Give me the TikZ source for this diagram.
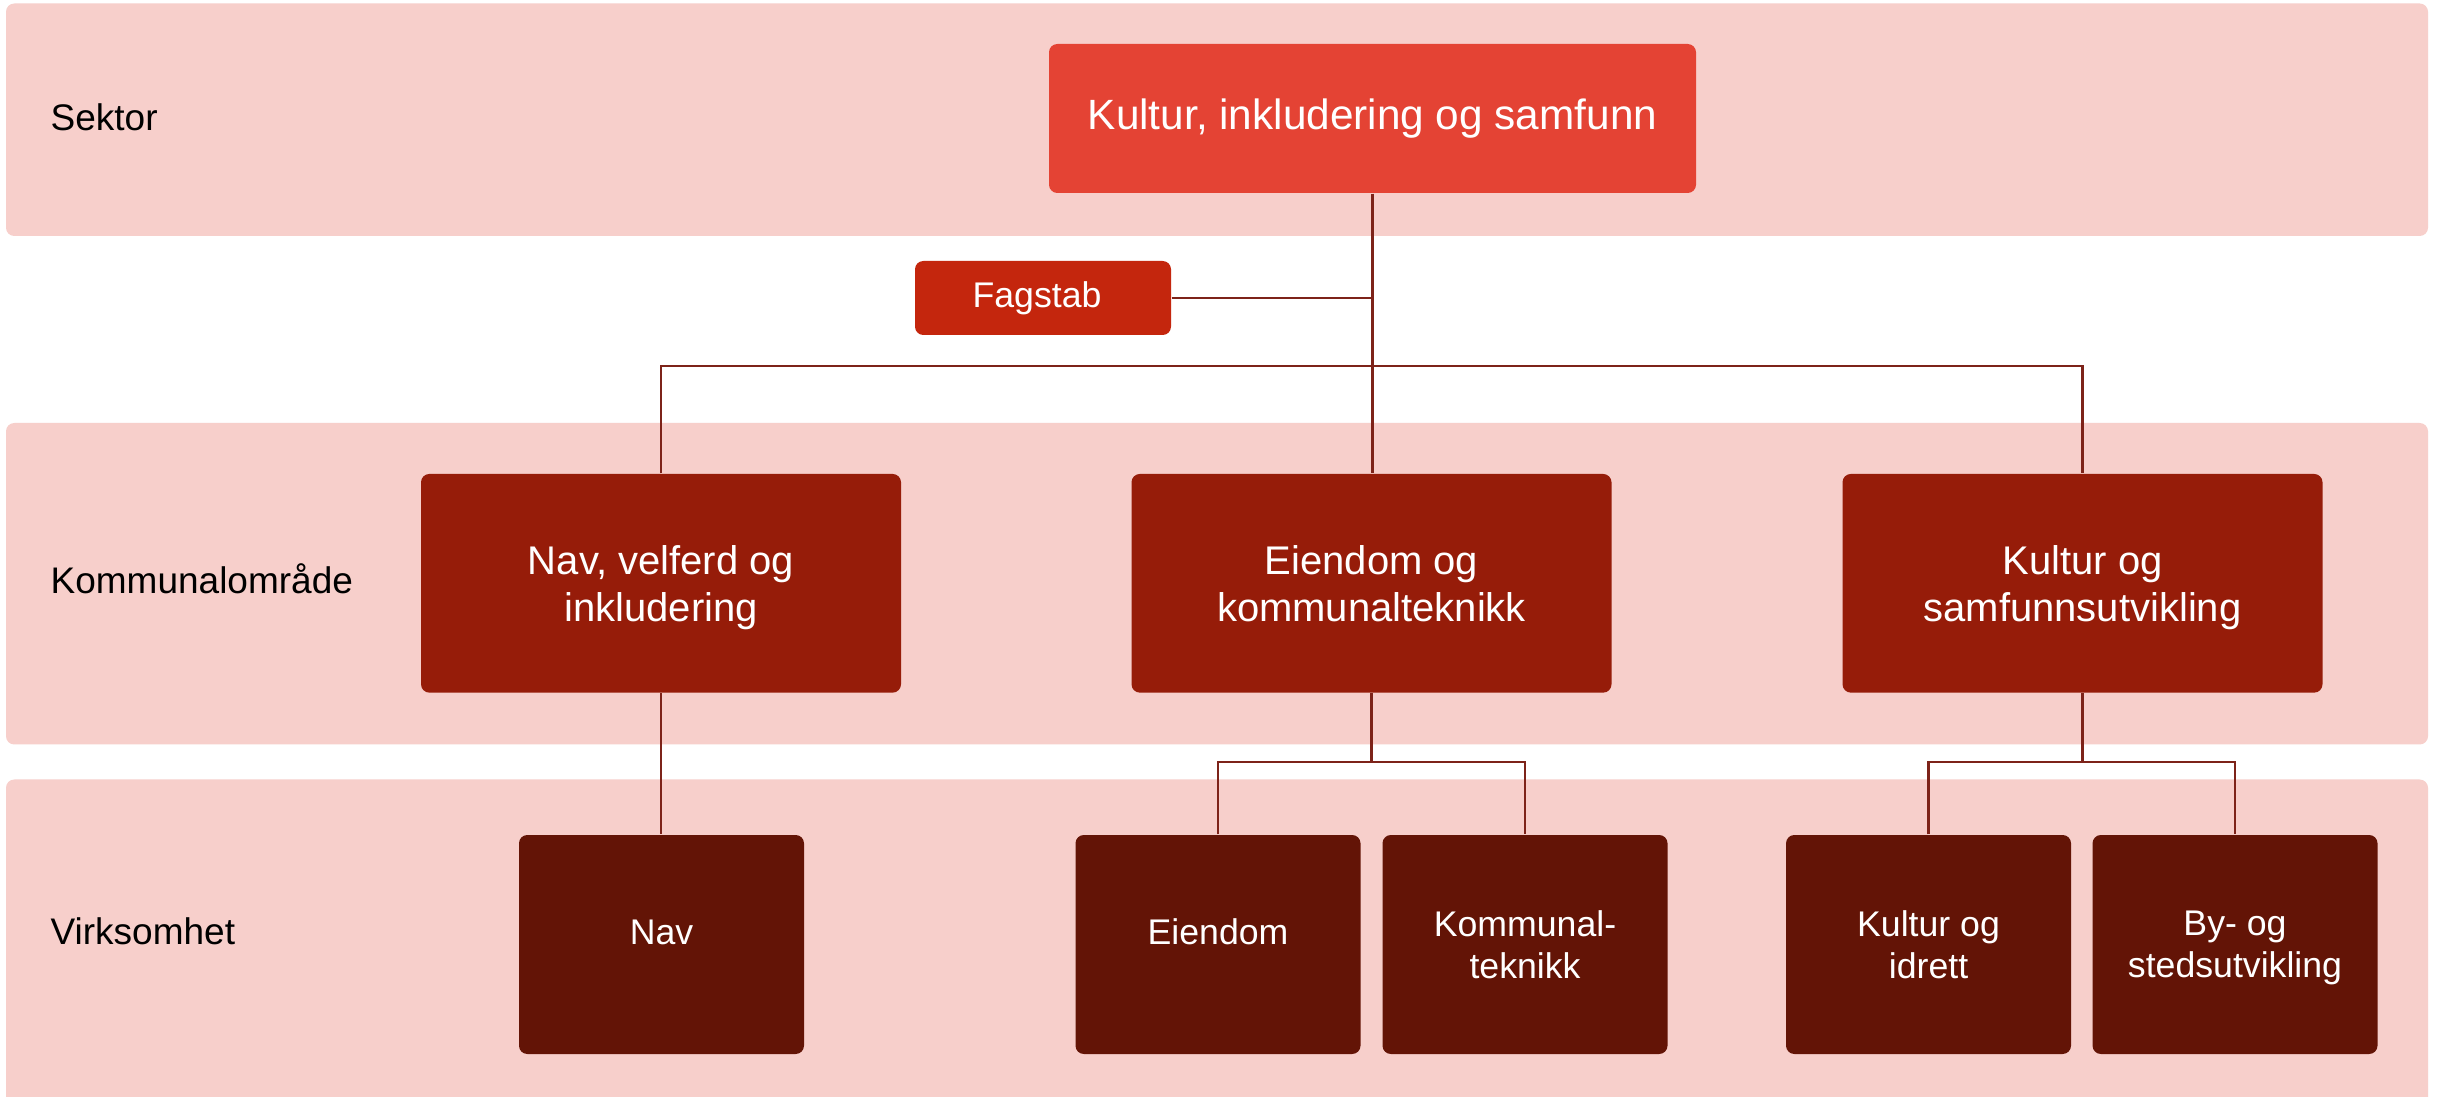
\documentclass[tikz,border=0pt]{standalone}
\usepackage{fontspec}
\setmainfont{Liberation Sans}
\definecolor{bandc}{HTML}{F7CFCB}
\definecolor{topc}{HTML}{E44334}
\definecolor{fagc}{HTML}{C4260D}
\definecolor{midc}{HTML}{961C09}
\definecolor{lowc}{HTML}{631406}
\definecolor{linec}{HTML}{7D2319}
\begin{document}
\begin{tikzpicture}[x=0.3pt,y=-0.3pt,
  band/.style={fill=bandc,draw=none,rounded corners=2.5pt},
  boxbase/.style={draw=none,rounded corners=2.5pt,text=white,align=center,inner sep=0pt},
  topbox/.style={boxbase,fill=topc,minimum width=194.1pt,minimum height=44.7pt,font=\fontsize{12.7}{15}\selectfont},
  fagbox/.style={boxbase,fill=fagc,minimum width=76.8pt,minimum height=22.2pt,font=\fontsize{10.7}{13}\selectfont},
  midbox/.style={boxbase,fill=midc,minimum width=144pt,minimum height=65.6pt,font=\fontsize{12}{14.1}\selectfont,text depth=0pt},
  lowbox/.style={boxbase,fill=lowc,minimum width=85.5pt,minimum height=65.7pt,font=\fontsize{10.7}{12.6}\selectfont,text depth=0pt},
  lowone/.style={lowbox,text depth=7.5pt},
  lvl/.style={anchor=base west,inner sep=0pt,text=black,font=\fontsize{11.1}{13}\selectfont},
  conn/.style={draw=linec,line width=0.75pt}
]
\useasboundingbox (0,0) rectangle (2440,1097);
\clip (0,0) rectangle (2440,1097);
\fill[white] (0,0) rectangle (2440,1097);

% bands
\path[band] (6,3.5) rectangle (2428,236);
\path[band] (6,423) rectangle (2428,744.5);
\path[band] (6,779.5) rectangle (2428,1110);

% level labels
\node[lvl] (lsek) at (50,131) {Sektor};
\node[lvl] (lkom) at (50,594) {Kommunalområde};
\node[lvl] (lvir) at (50,944) {Virksomhet};

% boxes
\node[topbox] (main) at (1372.5,118.5) {Kultur, inkludering og samfunn};
\node[fagbox] (fag) at (1043,298) {\hspace*{-3.6pt}Fagstab};

\node[midbox] (nvi) at (661,583.3) {Nav, velferd og\\inkludering};
\node[midbox] (eko) at (1371.5,583.3) {Eiendom og\\kommunalteknikk};
\node[midbox] (kso) at (2082.5,583.3) {Kultur og\\samfunnsutvikling};

\node[lowone] (nav) at (661.5,944.5) {Nav};
\node[lowone] (eie) at (1218,944.5) {Eiendom};
\node[lowbox] (kom) at (1525,944.5) {Kommunal-\\teknikk};
\node[lowbox] (kid) at (1928.5,944.5) {Kultur og\\idrett};
\node[lowbox] (bys) at (2235,944.5) {By- og\\stedsutvikling};

% connector junctions
\coordinate (bus) at (1372.5,366);
\coordinate (eb) at (1371.5,762);
\coordinate (kb) at (2082.5,762);

% connectors
\draw[conn] (main.south) -- (main.south |- eko.north);
\draw[conn] (fag.east) -- (fag.east -| main.south);
\draw[conn] (nvi.north) |- (bus) -| (kso.north);
\draw[conn] (nvi.south) -- (nvi.south |- nav.north);
\draw[conn] (eko.south) -- (eb);
\draw[conn] (eie.north) |- (eb) -| (kom.north);
\draw[conn] (kso.south) -- (kb);
\draw[conn] (kid.north) |- (kb) -| (bys.north);
\end{tikzpicture}
\end{document}
